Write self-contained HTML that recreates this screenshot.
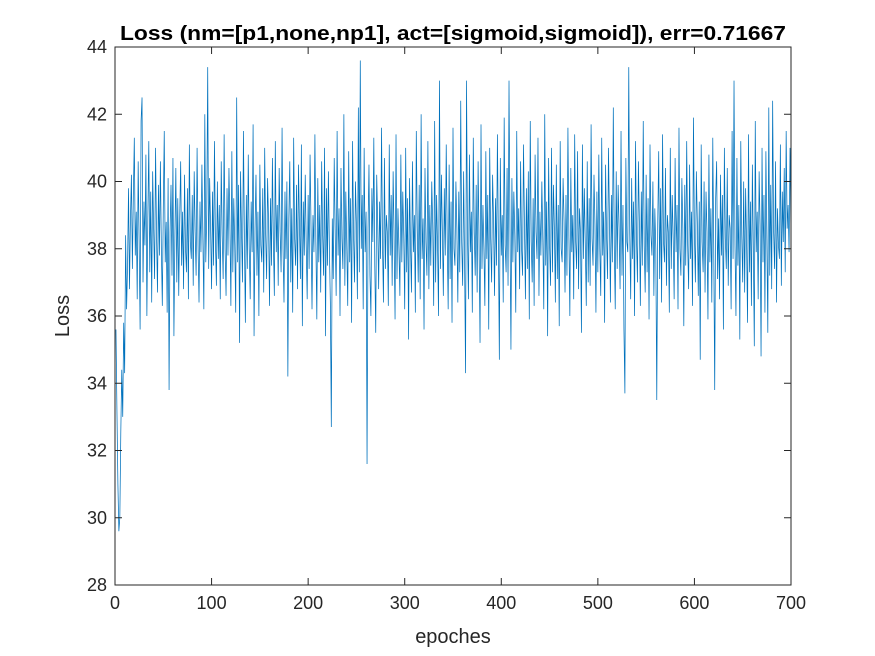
<!DOCTYPE html>
<html><head><meta charset="utf-8"><style>
html,body{margin:0;padding:0;background:#fff;width:875px;height:656px;overflow:hidden}
svg{display:block;font-family:"Liberation Sans",Arial,sans-serif}
</style></head><body>
<svg id="chart" width="875" height="656"></svg>
<script>
const xTicks=[0,100,200,300,400,500,600,700];
const yTicks=[28,30,32,34,36,38,40,42,44];
const lossValues=[
35.6,33.2,31.0,29.6,30.0,32.5,34.4,33.0,35.8,34.3,38.4,36.2,37.5,39.8,36.8,38.9,40.2,37.4,39.6,41.3,
37.8,39.1,36.5,40.6,38.2,35.6,41.8,42.5,37.0,39.4,38.1,40.8,36.0,38.9,41.2,37.3,39.7,36.4,40.3,38.6,
37.1,41.0,38.4,36.7,39.9,37.8,40.6,38.0,36.3,39.2,41.5,37.6,38.8,36.1,40.1,33.8,38.5,39.9,37.2,40.7,
35.4,38.3,40.4,37.0,39.5,36.6,38.9,40.6,37.5,39.1,36.8,40.2,38.0,37.3,39.8,36.5,41.1,38.2,37.7,39.6,
36.9,40.3,38.5,37.2,41.0,38.1,36.4,39.4,37.9,40.5,38.3,36.2,42.0,37.6,39.0,43.4,37.4,40.1,38.6,36.8,
39.7,37.5,41.2,38.2,36.9,40.0,37.7,39.3,36.5,40.6,38.4,37.1,41.4,38.0,36.6,39.8,37.8,40.4,38.7,36.3,
40.9,37.3,39.5,38.1,36.1,42.5,37.6,39.9,35.2,40.3,38.5,37.0,41.5,38.3,35.8,39.6,37.4,40.8,38.0,36.5,
39.4,37.9,41.7,35.4,38.6,40.2,37.2,39.1,36.0,40.5,38.1,37.6,39.8,36.7,41.0,38.4,37.1,40.1,38.8,36.3,
39.5,37.5,40.7,38.2,36.6,41.2,37.9,39.3,36.9,40.4,38.5,37.3,41.6,38.0,36.4,39.7,37.7,40.0,34.2,38.9,
40.6,37.0,39.2,36.1,41.3,38.3,37.5,39.9,36.8,40.5,38.7,37.1,41.1,35.7,39.4,37.8,40.2,38.1,36.5,39.6,
37.4,40.8,38.6,36.2,39.0,37.9,41.4,38.2,35.9,40.1,37.6,39.3,36.7,40.6,38.4,37.2,41.0,35.4,39.8,37.5,
40.3,38.0,36.4,32.7,38.9,37.1,40.7,38.5,36.6,41.5,37.8,39.2,36.0,40.4,38.3,37.4,42.0,36.9,39.7,38.1,
36.3,40.9,37.6,39.5,35.8,41.2,38.4,37.0,40.0,38.7,36.5,42.2,37.3,43.6,38.0,39.6,36.2,41.0,37.9,39.1,
31.6,38.6,40.5,37.2,36.0,39.8,38.2,41.3,37.5,35.5,40.2,38.8,36.8,39.4,37.7,41.6,38.1,36.4,40.7,37.4,
39.0,38.5,36.3,41.1,37.8,39.6,36.9,40.3,38.3,35.9,41.4,37.1,39.2,38.0,36.6,40.8,37.6,39.7,38.4,36.2,
41.0,37.3,39.5,35.3,40.1,38.1,36.7,40.6,37.9,39.0,36.1,41.5,38.6,37.0,39.9,36.5,42.0,37.7,38.9,35.6,
40.4,38.2,37.2,41.2,36.8,39.3,37.5,40.0,38.7,36.3,41.8,37.0,39.6,38.1,36.0,43.0,37.4,40.2,38.5,36.6,
39.8,37.8,41.1,38.3,36.2,40.5,37.1,39.4,35.8,41.6,38.0,37.5,40.0,38.6,36.4,39.7,37.3,42.4,38.2,36.9,
40.3,37.6,34.3,43.0,38.4,36.5,40.8,37.9,39.1,36.1,41.3,38.5,37.2,39.9,36.7,40.6,38.1,35.2,41.7,37.4,
39.3,38.0,36.3,40.9,37.7,39.6,35.6,41.0,38.3,37.0,40.2,38.8,36.6,39.5,37.5,41.4,38.2,34.7,40.7,37.8,
39.0,36.4,41.9,38.1,37.3,40.4,36.9,43.0,38.6,35.0,40.1,37.6,39.7,38.4,36.1,41.5,37.9,39.2,36.8,40.6,
38.0,37.2,41.1,38.7,36.5,39.8,37.4,40.3,35.9,41.8,38.2,37.0,39.5,36.3,40.8,38.5,37.7,41.3,36.6,39.1,
37.8,40.0,38.3,36.2,42.0,37.5,39.4,35.4,40.7,38.1,36.9,41.0,37.3,39.9,38.6,36.4,40.5,37.1,39.3,35.7,
41.2,38.0,37.6,40.1,38.8,36.7,39.6,37.2,41.6,38.4,36.0,40.4,37.9,39.0,36.5,41.4,38.2,37.4,40.9,36.8,
39.2,38.5,35.5,41.1,37.7,39.8,38.1,36.3,40.6,37.0,39.5,36.9,41.7,38.3,37.5,40.2,38.7,36.1,39.7,37.3,
40.8,38.0,36.6,41.3,37.8,39.1,35.8,40.5,38.4,37.1,41.0,38.9,36.4,39.6,37.6,42.2,38.1,36.2,40.3,37.4,
39.9,38.6,36.8,41.5,37.2,39.3,35.6,33.7,40.7,38.2,37.9,43.4,38.5,36.5,40.1,37.7,39.4,36.0,41.2,38.3,
37.0,40.6,38.8,36.3,39.7,37.5,41.8,38.1,36.7,40.2,37.3,39.5,35.9,41.1,38.4,37.8,40.0,36.6,39.2,38.0,
33.5,38.7,40.9,37.1,39.8,36.4,41.4,38.2,37.6,40.4,36.9,39.0,38.5,36.1,41.0,37.4,39.6,38.3,36.5,40.7,
37.9,39.3,36.2,41.6,38.0,37.2,40.1,38.6,35.7,39.9,37.5,41.2,38.1,36.8,40.5,37.7,39.1,36.3,41.9,38.4,
37.0,40.3,38.8,36.6,39.4,34.7,41.1,38.2,37.3,40.0,36.7,39.7,38.5,35.9,40.8,37.6,39.2,36.4,41.3,38.0,
33.8,39.5,40.6,37.1,38.9,36.5,40.2,37.8,39.6,35.6,41.0,38.3,37.4,40.4,36.9,39.0,38.6,36.2,41.5,37.7,
43.0,38.1,36.0,40.7,37.5,39.3,35.3,41.2,38.4,37.0,40.0,36.7,39.8,38.2,35.8,41.4,37.3,39.4,36.3,40.5,
38.0,35.1,41.8,37.9,39.1,36.5,40.3,38.7,34.8,41.0,37.6,39.6,36.1,40.9,38.3,35.5,42.2,37.2,39.9,36.8,
42.4,38.5,37.4,40.6,36.4,39.2,38.1,37.7,41.1,36.9,39.7,38.2,40.4,37.3,41.5,38.6,39.3,37.9,41.0,38.4];

const NS='http://www.w3.org/2000/svg';
const svg=document.getElementById('chart');
const L=115,R=791,T=47,B=585;
const xScale=v=>L+(v-0)/(700-0)*(R-L);
const yScale=v=>B-(v-28)/(44-28)*(B-T);
function mk(tag,attrs,parent){const e=document.createElementNS(NS,tag);for(const k in attrs)e.setAttribute(k,attrs[k]);(parent||svg).appendChild(e);return e;}

const bg=mk('rect',{x:L,y:T,width:R-L,height:B-T,fill:'#fff'});



let d='';
lossValues.forEach((v,i)=>{d+=(i?'L':'M')+xScale(i+1).toFixed(2)+' '+yScale(v).toFixed(2);});
const line=mk('path',{d:d,fill:'none',stroke:'#0072BD','stroke-width':0.75});



const box=mk('rect',{x:L,y:T,width:R-L,height:B-T,fill:'none',stroke:'#262626','stroke-width':1});



xTicks.forEach(t=>{
  const x=xScale(t);
  mk('line',{x1:x,x2:x,y1:B,y2:B-7,stroke:'#262626'});
  mk('line',{x1:x,x2:x,y1:T,y2:T+7,stroke:'#262626'});
  const tx=mk('text',{x:x,y:B+24,'text-anchor':'middle','font-size':18,fill:'#262626'});
  tx.textContent=t;
  
  
});
yTicks.forEach(t=>{
  const y=yScale(t);
  mk('line',{x1:L,x2:L+7,y1:y,y2:y,stroke:'#262626'});
  mk('line',{x1:R,x2:R-7,y1:y,y2:y,stroke:'#262626'});
  const ty=mk('text',{x:L-8,y:y+6,'text-anchor':'end','font-size':18,fill:'#262626'});
  ty.textContent=t;
  
  
});

const title=mk('text',{x:120,y:40,'font-size':20,'font-weight':'bold',fill:'#000',textLength:666,lengthAdjust:'spacingAndGlyphs'});
title.textContent='Loss (nm=[p1,none,np1], act=[sigmoid,sigmoid]), err=0.71667';



const xl=mk('text',{x:453,y:643,'text-anchor':'middle','font-size':20,fill:'#262626'});
xl.textContent='epoches';



const yl=mk('text',{x:0,y:0,'text-anchor':'middle','font-size':20,fill:'#262626',transform:'translate(69,316) rotate(-90)'});
yl.textContent='Loss';


</script>
</body></html>
